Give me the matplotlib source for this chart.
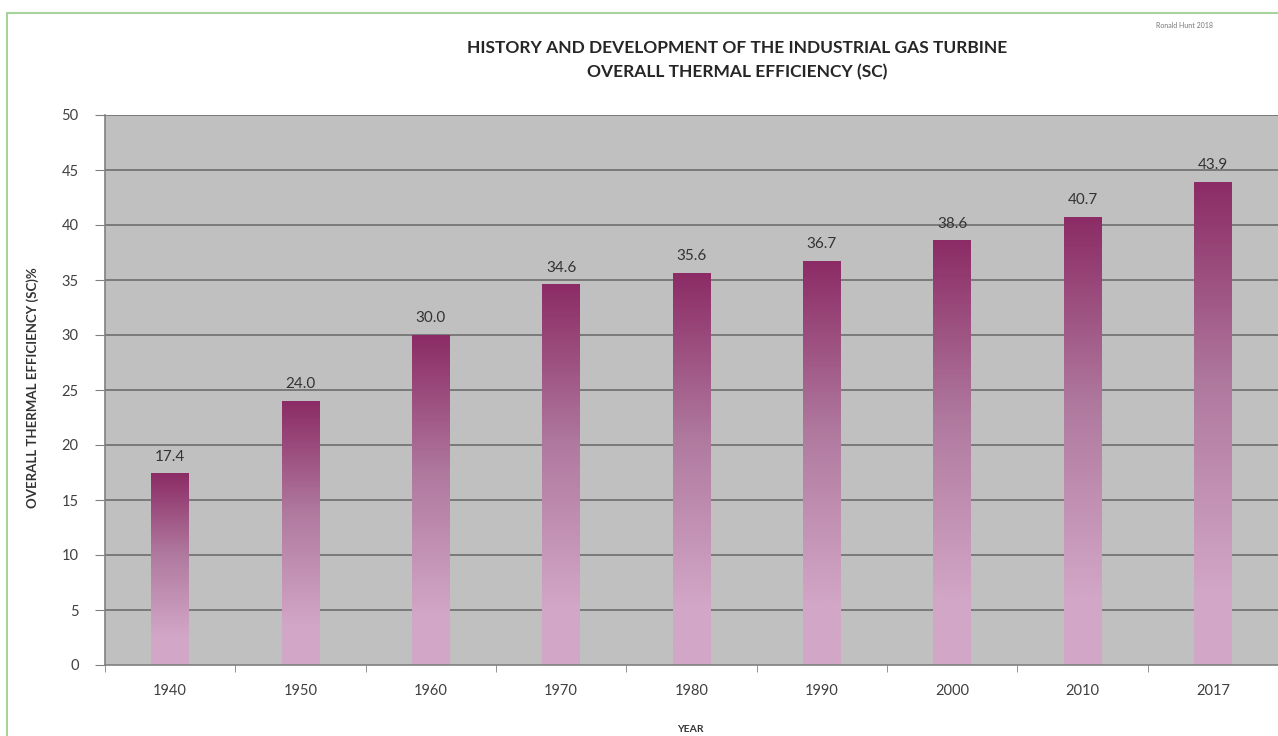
import numpy as np
import matplotlib
matplotlib.use("Agg")
import matplotlib.pyplot as plt
from matplotlib.colors import LinearSegmentedColormap
from matplotlib.patches import Rectangle

years = ["1940", "1950", "1960", "1970", "1980", "1990", "2000", "2010", "2017"]
efficiency = [17.4, 24.0, 30.0, 34.6, 35.6, 36.7, 38.6, 40.7, 43.9]
yticks = [0, 5, 10, 15, 20, 25, 30, 35, 40, 45, 50]

plt.rcParams['font.family'] = ['Lato', 'DejaVu Sans']

fig = plt.figure(figsize=(12.78, 7.36), dpi=100)
fig.patch.set_facecolor('white')
# green frame
fig.add_artist(Rectangle((7/1278, -0.1), 1.2, (736-13)/736 + 0.1, transform=fig.transFigure,
                         fill=False, edgecolor='#a6d49a', linewidth=1.5))

ax = fig.add_axes([105/1278, 71/736, 1173/1278, 550/736])
ax.set_facecolor('#c0c0c0')
ax.set_xlim(-0.5, len(years) - 0.5)
ax.set_ylim(0, 50)

for yv in yticks[1:]:
    ax.axhline(yv, color='#7a7a7a', linewidth=1.4, zorder=1)

cmap = LinearSegmentedColormap.from_list('bar', ['#d2a6c6', '#b07a9f', '#8c2c66'])
width = 0.29
for i, v in enumerate(efficiency):
    t = np.linspace(0, 1, 256).reshape(-1, 1)
    g = np.clip((t - 0.15) / 0.85, 0, 1)
    ax.imshow(g, extent=(i - width/2, i + width/2, 0, v), origin='lower', cmap=cmap,
              vmin=0, vmax=1, aspect='auto', zorder=2, interpolation='bilinear')
    ax.text(i, v + 0.9, f"{v:.1f}", ha='center', va='bottom', fontsize=11, color='#333333', zorder=3)
ax.set_xlim(-0.5, len(years) - 0.5)
ax.set_ylim(0, 50)

ax.set_yticks(yticks)
ax.set_yticklabels([str(y) for y in yticks], fontsize=10.5, color='#404040')
ax.set_xticks(range(len(years)))
ax.set_xticklabels(years, fontsize=10.5, color='#404040')
ax.set_xticks(np.arange(-0.5, len(years), 1), minor=True)
ax.tick_params(axis='x', which='major', length=0, pad=14)
ax.tick_params(axis='x', which='minor', length=5, color='#808080', direction='out')
ax.tick_params(axis='y', length=7, color='#808080', direction='out', pad=12)

for s in ['top', 'right']:
    ax.spines[s].set_visible(False)
for s in ['left', 'bottom']:
    ax.spines[s].set_color('#808080')
    ax.spines[s].set_linewidth(1.2)

fig.text(737/1278, 1 - 48/736, "HISTORY AND DEVELOPMENT OF THE INDUSTRIAL GAS TURBINE",
         ha='center', va='center', fontsize=12.5, fontweight='bold', color='#262626')
fig.text(737/1278, 1 - 72/736, "OVERALL THERMAL EFFICIENCY (SC)",
         ha='center', va='center', fontsize=12.5, fontweight='bold', color='#262626')
fig.text(690/1278, 1 - 729/736, "YEAR", ha='center', va='center', fontsize=7.5,
         fontweight='bold', color='#333333')
fig.text(33/1278, 1 - 388/736, "OVERALL THERMAL EFFICIENCY (SC)%", ha='center', va='center',
         rotation=90, fontsize=9.5, fontweight='bold', color='#333333')
fig.text(1185/1278, 1 - 26/736, "Ronald Hunt 2018", ha='center', va='center', fontsize=5,
         color='#777777')

fig.savefig('out.png', dpi=100, facecolor='white')
